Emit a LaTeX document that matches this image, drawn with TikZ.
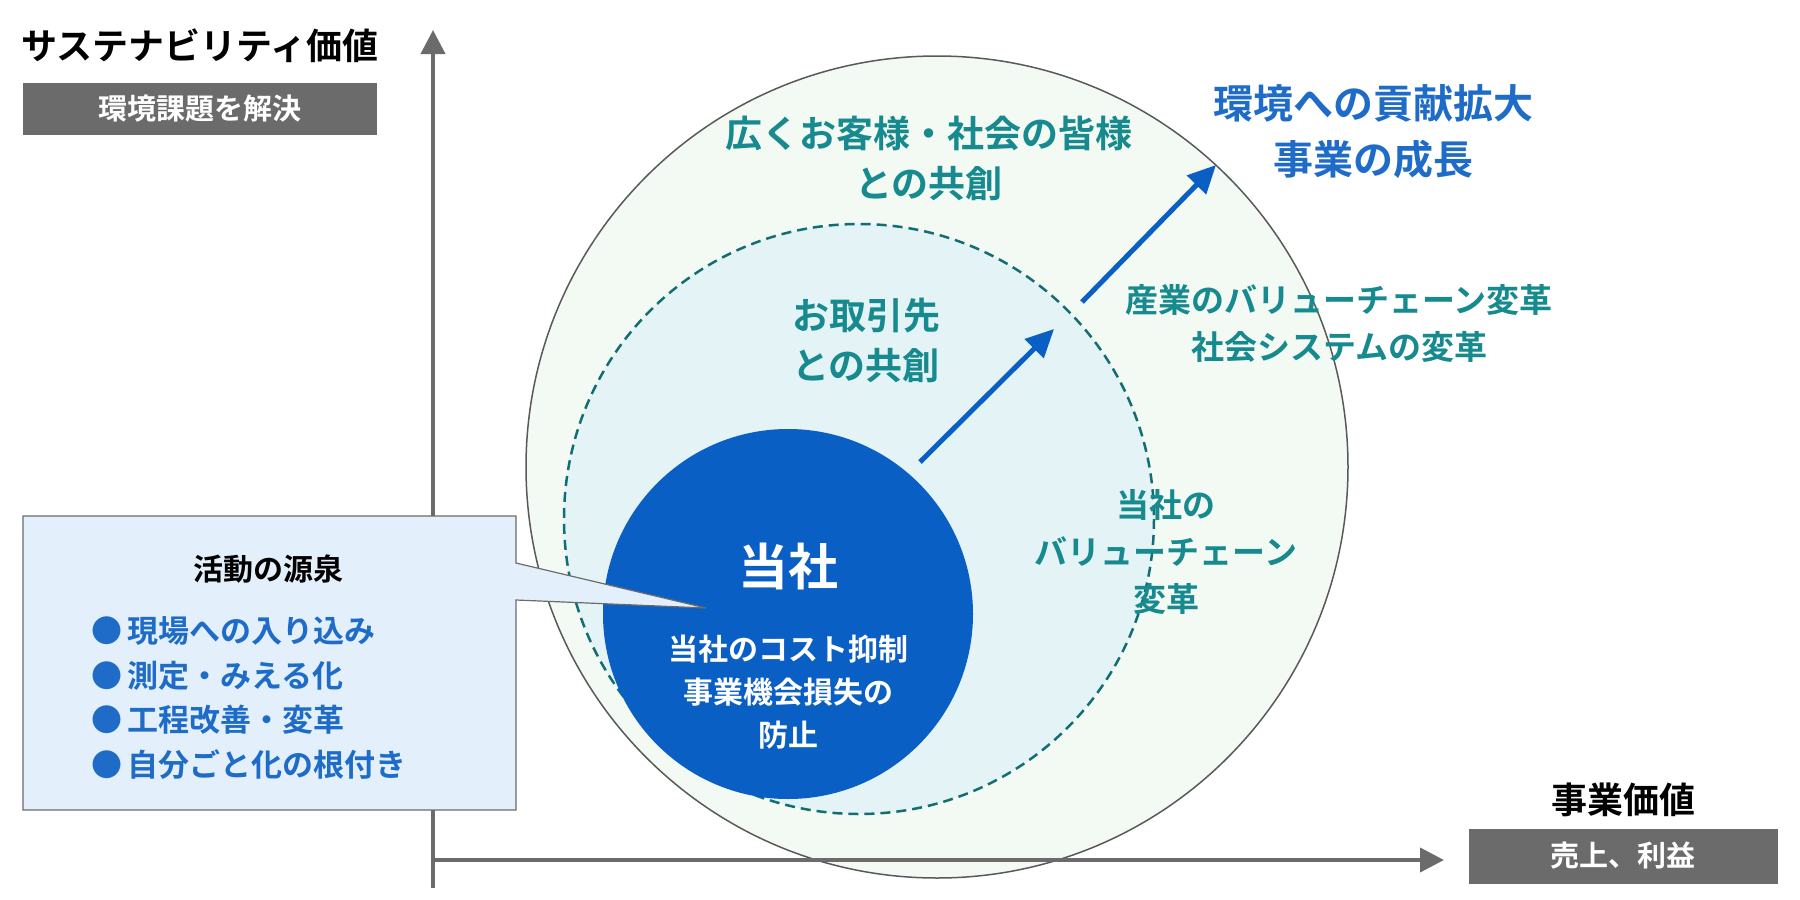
\documentclass[tikz,border=0pt]{standalone}
\usepackage{fontspec}
\newfontfamily\jp{Noto Sans CJK JP}[BoldFont={Noto Sans CJK JP Bold}]
\usetikzlibrary{arrows.meta}
\definecolor{axisgray}{HTML}{6B6B6B}
\definecolor{tealtxt}{HTML}{168A8E}
\definecolor{bluetxt}{HTML}{1E6CC8}
\definecolor{corpblue}{HTML}{0A5FC4}
\definecolor{outerfill}{HTML}{F3FAF3}
\definecolor{innerfill}{HTML}{E4F3F5}
\definecolor{notefill}{HTML}{E3F0FC}
\tikzset{
  axis/.style={draw=axisgray, line width=4pt, -{Triangle[length=24pt,width=24pt]}},
  growth/.style={draw=corpblue, line width=5pt, -{Triangle[length=28pt,width=26pt]}},
  graybox/.style={fill=axisgray, text=white, font=\jp\bfseries\fontsize{29}{34}\selectfont},
  title/.style={font=\jp\bfseries\fontsize{36}{40}\selectfont},
  lbl/.style={font=\jp\bfseries\fontsize{37}{50}\selectfont, align=center},
  small/.style={font=\jp\bfseries\fontsize{33}{47}\selectfont, align=center, text=tealtxt},
}
\begin{document}
\begin{tikzpicture}[x=1pt,y=-1pt]
\useasboundingbox (0,0) rectangle (1800,900);
% circles
\draw[fill=outerfill, draw=black!65, line width=1.5pt] (937,467) circle (411);
\draw[fill=innerfill, draw=tealtxt!80!black, line width=2.5pt, dash pattern=on 10pt off 6pt] (859,519) circle (295);
\fill[corpblue] (788,614) circle (185);
% axes
\coordinate (origin) at (433,860);
\coordinate (ytop) at (433,30);
\coordinate (xend) at (1444,860);
\draw[axis] (origin|-0,888) -- (ytop);
\draw[axis] (origin) -- (xend);
% callout
\fill[notefill, draw=axisgray, line width=1.2pt] (23,516) -- (516,516) -- (516,563) -- (706,608) -- (516,600) -- (516,810) -- (23,810) -- cycle;
% arrows
\coordinate (a1) at (920,462);
\coordinate (b1) at (1054,329);
\coordinate (a2) at (1082,302);
\coordinate (b2) at (1216,165);
\draw[growth] (a1) -- (b1);
\draw[growth] (a2) -- (b2);
% axis labels
\node[title, anchor=west] (ytitle) at (18,46) {サステナビリティ価値};
\node[graybox, minimum width=354pt, minimum height=52pt] (ybox) at (200,109) {環境課題を解決};
\node[title] (xtitle) at (1623,800) {事業価値};
\node[graybox, minimum width=309pt, minimum height=55pt] (xbox) at (1623,856) {売上、利益};
% circle labels
\node[lbl, text=tealtxt] (society) at (929,158) {広くお客様・社会の皆様\\との共創};
\node[lbl, text=bluetxt, font=\jp\bfseries\fontsize{40}{56}\selectfont] (goal) at (1373,132) {環境への貢献拡大\\事業の成長};
\node[lbl, text=tealtxt] (partner) at (866,340) {お取引先\\との共創};
\node[small] (industry) at (1339,323) {産業のバリューチェーン変革\\社会システムの変革};
\node[small] (ownchain) at (1166,552) {当社の\\バリューチェーン\\変革};
\node[text=white, font=\jp\bfseries\fontsize{50}{56}\selectfont] (us) at (788,566) {当社};
\node[text=white, font=\jp\bfseries\fontsize{30}{43}\selectfont, align=center] (cost) at (788,692) {当社のコスト抑制\\事業機会損失の\\防止};
% callout text
\node[font=\jp\bfseries\fontsize{30}{34}\selectfont] (source) at (268,569) {活動の源泉};
\node[anchor=west, text=bluetxt, font=\jp\bfseries\fontsize{31}{44.7}\selectfont, align=left] (items) at (88,698)
  {●\,現場への入り込み\\●\,測定・みえる化\\●\,工程改善・変革\\●\,自分ごと化の根付き};
\end{tikzpicture}
\end{document}
